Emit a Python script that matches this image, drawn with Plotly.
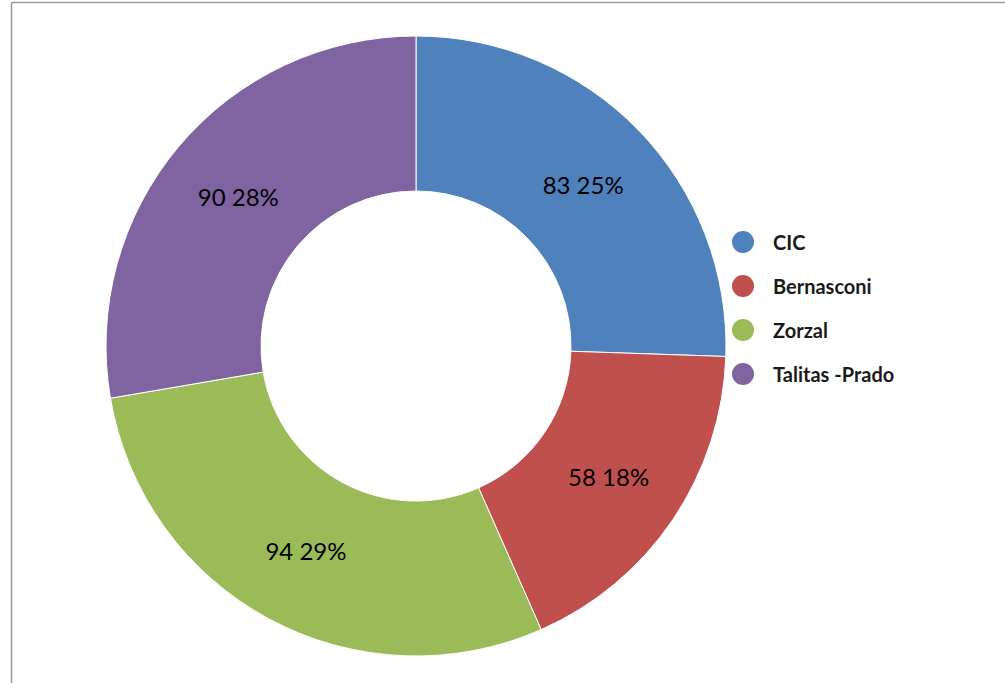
import plotly.graph_objects as go

labels = ["CIC", "Bernasconi", "Zorzal", "Talitas -Prado"]
values = [83, 58, 94, 90]
pct_labels = [25, 18, 29, 28]
colors = ["#4F81BD", "#C0504D", "#9BBB59", "#8064A2"]

W, H = 1005, 683
cx, cy, R = 416, 346, 310

fig = go.Figure()
fig.add_trace(go.Pie(
    labels=labels, values=values, customdata=pct_labels,
    texttemplate="%{value} %{customdata}%", textinfo="text",
    textposition="inside", insidetextorientation="horizontal",
    textfont=dict(family="Lato", size=24, color="black"),
    marker=dict(colors=colors, line=dict(color="white", width=1)),
    hole=0.5, sort=False, direction="clockwise", rotation=0,
    showlegend=False,
    domain=dict(x=[(cx - R) / W, (cx + R) / W], y=[1 - (cy + R) / H, 1 - (cy - R) / H]),
))

bx, by = 11.5, 2.5
shapes = [
    dict(type="line", xref="paper", yref="paper", x0=bx / W, x1=1.02,
         y0=1 - by / H, y1=1 - by / H, line=dict(color="#999999", width=1.5)),
    dict(type="line", xref="paper", yref="paper", x0=bx / W, x1=bx / W,
         y0=-0.02, y1=1 - by / H, line=dict(color="#999999", width=1.5)),
]
annotations = []
lx, ly0, dy, r = 743, 242, 44, 11
for i, (lab, col) in enumerate(zip(labels, colors)):
    yc = ly0 + i * dy
    shapes.append(dict(type="circle", xref="paper", yref="paper",
                       x0=(lx - r) / W, x1=(lx + r) / W, y0=1 - (yc + r) / H, y1=1 - (yc - r) / H,
                       fillcolor=col, line=dict(width=0)))
    annotations.append(dict(text=f"<b>{lab}</b>", xref="paper", yref="paper",
                            x=771 / W, y=1 - yc / H, xanchor="left", yanchor="middle",
                            showarrow=False, font=dict(family="Lato", size=20, color="#1a1a1a")))

fig.update_layout(
    width=W, height=H,
    margin=dict(l=0, r=0, t=0, b=0),
    paper_bgcolor="white", plot_bgcolor="white",
    showlegend=False,
    shapes=shapes, annotations=annotations,
)

fig.write_html("out.html", config={"displayModeBar": False},
               post_script="document.body.style.margin='0';")
